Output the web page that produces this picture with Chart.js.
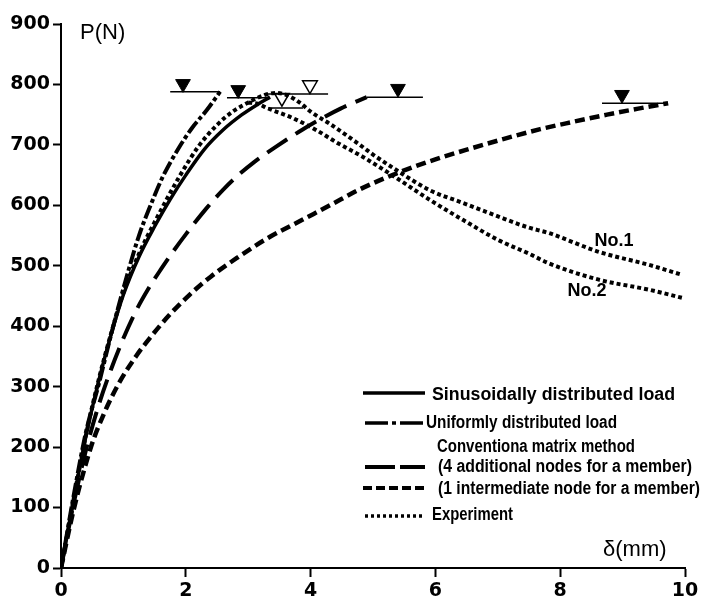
<!DOCTYPE html>
<html><head><meta charset="utf-8">
<script src="https://cdn.jsdelivr.net/npm/chart.js@4/dist/chart.umd.min.js"></script>
<style>html,body{margin:0;padding:0;background:#fff;}#wrap{width:705px;height:602px;}</style>
</head><body><div id="wrap"><canvas id="c" width="705" height="602"></canvas></div>
<script>
// Tick labels
const xTicks = [0, 2, 4, 6, 8, 10];
const yTicks = [0, 100, 200, 300, 400, 500, 600, 700, 800, 900];

// Sinusoidally distributed load (solid)
const sinX = [0, 0.2, 0.4, 0.6, 0.8, 1.0, 1.25, 1.5, 1.75, 2.0, 2.3, 2.6, 2.9, 3.15, 3.35];
const sinP = [0, 112, 218, 308, 385, 452, 515, 565, 610, 650, 693, 725, 750, 767, 779];

// Uniformly distributed load (dash-dot)
const uniX = [0, 0.2, 0.4, 0.61, 0.8, 1.05, 1.25, 1.47, 1.63, 1.87, 2.1, 2.34, 2.55];
const uniP = [0, 118, 225, 306, 385, 481, 550, 609, 647, 692, 728, 758, 788];

// Conventional matrix method, 4 additional nodes (long dash)
const m4X = [0, 0.2, 0.4, 0.6, 0.8, 1.0, 1.2, 1.4, 1.6, 1.8, 2.0, 2.33, 2.6, 2.82, 3.1, 3.46, 3.88, 4.2, 4.48, 4.9];
const m4P = [0, 105, 195, 268, 328, 380, 425, 462, 494, 524, 552, 595, 626, 648, 672, 698, 726, 745, 760, 779];

// Conventional matrix method, 1 intermediate node (short dash)
const m1X = [0, 0.2, 0.48, 0.7, 0.93, 1.2, 1.42, 1.75, 2.06, 2.4, 2.82, 3.3, 3.83, 4.31, 4.8, 5.38, 6.0, 6.6, 7.1, 7.68, 8.2, 8.75, 9.25, 9.73];
const m1P = [0, 95, 200, 258, 306, 350, 380, 420, 452, 482, 513, 545, 574, 600, 627, 653, 676, 695, 710, 726, 738, 750, 760, 769];

// Experiment: rising part (shared), No.1 falling, No.2 falling
const expX = [0, 0.2, 0.4, 0.6, 0.8, 1.0, 1.25, 1.5, 1.9, 2.2, 2.5, 2.75, 3.0, 3.25, 3.45];
const expP = [0, 113, 220, 310, 387, 455, 520, 572, 648, 697, 733, 755, 770, 782, 786];
const no1X = [3.65, 3.85, 4.0, 4.32, 4.75, 5.0, 5.38, 5.91, 6.44, 6.97, 7.47, 7.82, 8.62, 9.44, 9.95];
const no1P = [781, 768, 755, 734, 703, 684, 658, 625, 604, 583, 564, 554, 523, 501, 485];
const no2X = [3.0, 3.15, 3.3, 3.7, 4.1, 4.4, 4.84, 5.38, 5.91, 6.44, 7.0, 7.5, 7.82, 8.62, 9.44, 9.95];
const no2P = [770, 768, 761, 745, 724, 705, 680, 645, 609, 576, 543, 520, 504, 477, 460, 447];

// Maximum-load level lines [xStart, xEnd, P]
const levelUni = [1.75, 2.55, 788];
const levelSin = [2.66, 3.35, 778];
const levelNo1 = [3.25, 4.28, 784];
const levelNo2 = [3.32, 3.88, 761];
const levelM4  = [4.9, 5.8, 779];
const levelM1  = [8.67, 9.68, 769];

// Triangle markers
const filledMarkX = [1.955, 2.84, 5.40, 8.99];
const filledMarkP = [801, 791, 793, 783];
const openMarkX = [3.99, 3.54];
const openMarkP = [799, 778];

const legendItems = [
  'Sinusoidally distributed load',
  'Uniformly distributed load',
  'Conventiona matrix method',
  '(4 additional nodes for a member)',
  '(1 intermediate node for a member)',
  'Experiment'
];

const pts = (xs, ys) => xs.map((x, i) => ({x: x, y: ys[i]}));
const lvl = a => [{x: a[0], y: a[2]}, {x: a[1], y: a[2]}];

function curve(data, dash, w) {
  return {data: data, borderColor: '#000', borderWidth: w, borderDash: dash, borderCapStyle: 'butt',
    pointRadius: 0, cubicInterpolationMode: 'monotone', fill: false};
}
function hline(a) {
  return {data: lvl(a), borderColor: '#000', borderWidth: 1.5, pointRadius: 0, tension: 0, fill: false};
}

const datasets = [
  curve(pts(sinX, sinP), [], 3.5),
  curve(pts(uniX, uniP), [14, 3, 4, 3], 4),
  curve(pts(m4X, m4P), [24, 10], 4),
  curve(pts(m1X, m1P), [10, 5], 4.5),
  curve(pts(expX.concat(no1X), expP.concat(no1P)), [4, 3], 4),
  curve(pts(no2X, no2P), [4, 3], 4),
  hline(levelUni), hline(levelSin), hline(levelNo1), hline(levelNo2), hline(levelM4), hline(levelM1),
  {data: pts(filledMarkX, filledMarkP), showLine: false, pointStyle: 'triangle', rotation: 180,
    pointRadius: 8.5, backgroundColor: '#000', borderColor: '#000', borderWidth: 1},
  {data: pts(openMarkX, openMarkP), showLine: false, pointStyle: 'triangle', rotation: 180,
    pointRadius: 8.5, backgroundColor: '#fff', borderColor: '#000', borderWidth: 1.5}
];

const textPlugin = {
  id: 'texts',
  afterDraw(chart) {
    const ctx = chart.ctx;
    ctx.save();
    ctx.fillStyle = '#000';
    ctx.textBaseline = 'middle';
    ctx.textAlign = 'left';
    ctx.font = "22px 'Liberation Sans'";
    ctx.fillText('P(N)', 80, 33);
    ctx.fillText('\u03b4(mm)', 603, 550);
    ctx.font = "bold 18px 'Liberation Sans'";
    ctx.textAlign = 'center';
    ctx.fillText('No.1', 614, 241);
    ctx.fillText('No.2', 587, 291);
    // legend (text fitted horizontally to the reference widths)
    ctx.textAlign = 'left';
    ctx.font = "bold 18px 'Liberation Sans'";
    const rowsY = [395, 423, 447, 467, 489, 515];
    const rowsX = [432, 426, 437, 438, 438, 432];
    const rowsW = [243, 191, 198, 254, 262, 81];
    legendItems.forEach((t, i) => {
      const m = ctx.measureText(t).width;
      const k = Math.min(1, rowsW[i] / m);
      ctx.save();
      ctx.translate(rowsX[i], rowsY[i]);
      ctx.scale(k, 1);
      ctx.fillText(t, 0, 0);
      ctx.restore();
    });
    function seg(x1, x2, y, dash, w) {
      ctx.save(); ctx.beginPath(); ctx.setLineDash(dash); ctx.lineWidth = w; ctx.strokeStyle = '#000';
      ctx.lineCap = 'butt'; ctx.moveTo(x1, y); ctx.lineTo(x2, y); ctx.stroke(); ctx.restore();
    }
    seg(363, 425, 393, [], 3.5);
    seg(365, 425, 423, [23, 4, 4, 4], 3.5);
    seg(365, 425, 467, [30, 5], 4);
    seg(363, 425, 488, [9, 4], 4);
    seg(365, 425, 516, [3, 3], 3.5);
    ctx.restore();
  }
};

new Chart(document.getElementById('c'), {
  type: 'line',
  data: {datasets: datasets},
  options: {
    responsive: false, animation: false, devicePixelRatio: 1,
    layout: {padding: {left: 0, top: 24, right: 20, bottom: 0}},
    plugins: {legend: {display: false}, tooltip: {enabled: false}},
    elements: {line: {borderJoinStyle: 'round'}},
    scales: {
      x: {
        type: 'linear', min: 0, max: 10,
        afterBuildTicks: s => { s.ticks = xTicks.map(v => ({value: v})); },
        afterFit: s => { s.height = 34; },
        grid: {display: true, drawOnChartArea: false, drawTicks: true, tickLength: 9, tickColor: '#000', tickWidth: 2},
        border: {display: true, color: '#000', width: 2},
        ticks: {color: '#000', padding: 3, maxRotation: 0, font: {family: "'DejaVu Sans'", size: 19, weight: 'bold'}}
      },
      y: {
        type: 'linear', min: 0, max: 900,
        afterBuildTicks: s => { s.ticks = yTicks.map(v => ({value: v})); },
        afterFit: s => { s.width = 61; },
        grid: {display: true, drawOnChartArea: false, drawTicks: true, tickLength: 8, tickColor: '#000', tickWidth: 2},
        border: {display: true, color: '#000', width: 2},
        ticks: {color: '#000', padding: 3, font: {family: "'DejaVu Sans'", size: 19, weight: 'bold'}}
      }
    }
  },
  plugins: [textPlugin]
});
</script>
</body></html>
